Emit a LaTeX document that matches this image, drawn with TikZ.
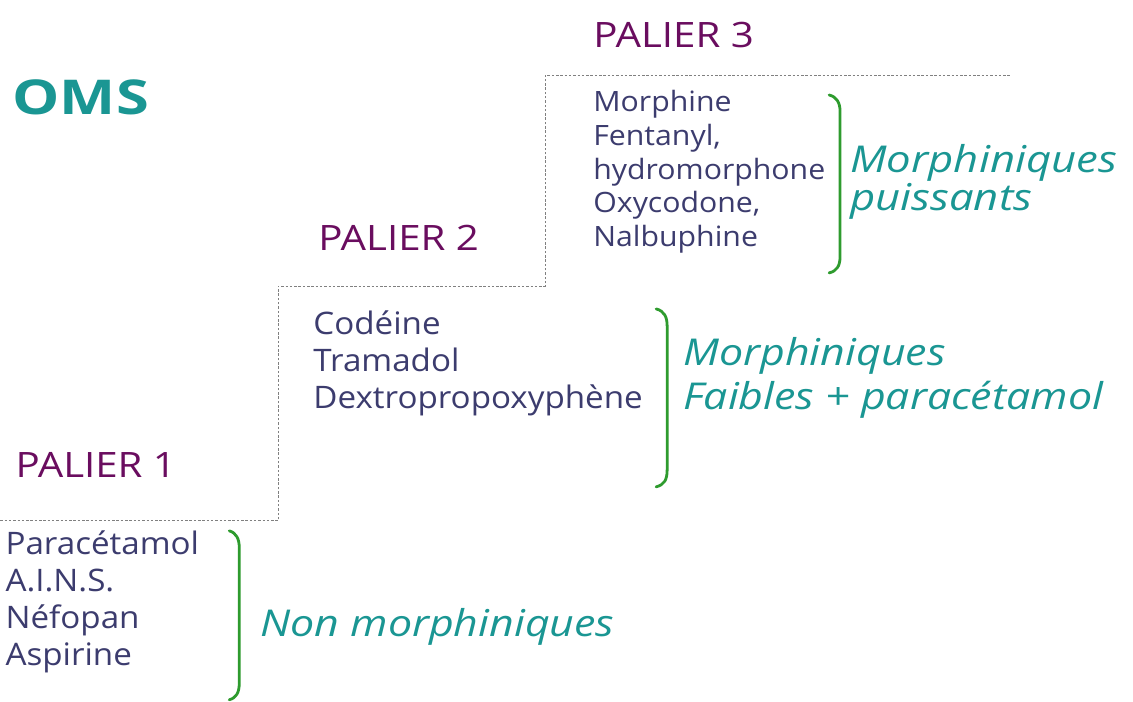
\documentclass[tikz,border=0pt]{standalone}
\usepackage{fontspec}
\setmainfont{Open Sans}
\newfontfamily\titlefont[FakeStretch=1.15]{Open Sans}
\newfontfamily\omsfont[FakeStretch=1.24]{Open Sans}
\newfontfamily\listfont[FakeStretch=1.07]{Open Sans}
\newfontfamily\listfontb[FakeStretch=1.08]{Open Sans}
\newfontfamily\clsfont[FakeStretch=1.16]{Open Sans}
\newfontfamily\clsfontb[FakeStretch=1.18]{Open Sans}
\definecolor{teal1}{HTML}{1A9693}
\definecolor{purp}{HTML}{6A0D5F}
\definecolor{listc}{HTML}{3C3C6E}
\definecolor{brc}{HTML}{2E9B2E}
\begin{document}
\begin{tikzpicture}[x=1pt,y=-1pt,
  stepline/.style={draw=gray, line width=0.7pt, dash pattern=on 2.5pt off 1.8pt},
  palier/.style={text=purp, anchor=west, inner sep=0pt, font=\titlefont\fontsize{35}{40}\selectfont},
  drug/.style={text=listc, anchor=west, inner sep=0pt, align=left},
  cls/.style={text=teal1, anchor=west, inner sep=0pt, align=left},
  brace/.style={draw=brc, line width=2.8pt, line cap=round}]
\fill[white] (0,0) rectangle (1133,701);
% OMS
\node[text=teal1, anchor=west, inner sep=0pt, font=\omsfont\bfseries\fontsize{48}{54}\selectfont] (oms) at (12,97) {OMS};
% stair line
\coordinate (s0) at (0,521);
\coordinate (s1) at (278,521);
\coordinate (s2) at (278,286);
\coordinate (s3) at (545,286);
\coordinate (s4) at (545,75);
\coordinate (s5) at (1011,75);
\draw[stepline] (s0) -- (s1) -- (s2) -- (s3) -- (s4) -- (s5);
% Palier titles
\node[palier] (p3) at (593,35) {PALIER 3};
\node[palier] (p2) at (318,238) {PALIER 2};
\node[palier] (p1) at (15,465) {PALIER 1};
% drug lists
\node[drug, font=\listfontb\fontsize{28}{33.7}\selectfont] (l3) at (593,172) {Morphine\\Fentanyl,\\hydromorphone\\Oxycodone,\\Nalbuphine};
\node[drug, font=\listfont\fontsize{31}{37}\selectfont] (l2) at (313,363) {Codéine\\Tramadol\\Dextropropoxyphène};
\node[drug, font=\listfont\fontsize{31}{37}\selectfont] (l1) at (5,602) {Paracétamol\\A.I.N.S.\\Néfopan\\Aspirine};
% braces
\draw[brace] (829,95) .. controls (837,97) and (840,103) .. (840,112) -- (840,256) .. controls (840,266) and (837,271) .. (829,273);
\draw[brace] (656,309) .. controls (664,311) and (667,317) .. (667,326) -- (667,470) .. controls (667,480) and (664,485) .. (656,487);
\draw[brace] (229,531) .. controls (236,533) and (239,539) .. (239,548) -- (239,683) .. controls (239,693) and (236,698) .. (229,700);
% class labels
\node[cls, font=\clsfontb\itshape\fontsize{37}{38}\selectfont] (c3) at (850,182) {Morphiniques\\puissants};
\node[cls, font=\clsfont\itshape\fontsize{37}{44}\selectfont] (c2) at (683,378) {Morphiniques\\Faibles + paracétamol};
\node[cls, font=\clsfont\itshape\fontsize{37}{44}\selectfont] (c1) at (260,627) {Non morphiniques};
\end{tikzpicture}
\end{document}
